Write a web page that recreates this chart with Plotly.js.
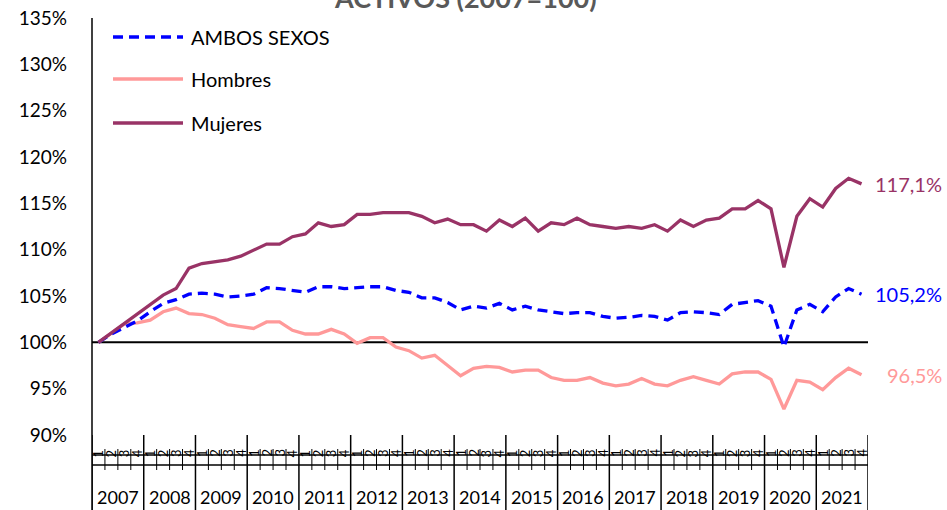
<!DOCTYPE html>
<html>
<head>
<meta charset="utf-8">
<script src="https://cdn.plot.ly/plotly-3.0.1.min.js"></script>
<style>html,body{margin:0;padding:0;background:#fff;}#chart{width:947px;height:510px;}</style>
</head>
<body>
<div id="chart"></div>
<script>
// ---- data ----
var years = ["2007","2008","2009","2010","2011","2012","2013","2014","2015","2016","2017","2018","2019","2020","2021"];
var quarters = ["1","2","3","4"];
var ambos = [100.0,100.9,101.6,102.3, 103.3,104.2,104.6,105.2, 105.3,105.2,104.9,105.0, 105.2,105.9,105.8,105.6,
             105.4,106.0,106.0,105.8, 105.9,106.0,106.0,105.6, 105.4,104.8,104.8,104.3, 103.5,103.9,103.7,104.2,
             103.5,103.9,103.5,103.3, 103.1,103.2,103.2,102.8, 102.6,102.7,102.9,102.8, 102.4,103.2,103.3,103.2,
             103.0,104.1,104.3,104.5, 103.9,99.5,103.5,104.1, 103.3,104.9,105.8,105.2];
var hombres = [100.0,101.0,102.0,102.1, 102.4,103.3,103.7,103.1, 103.0,102.6,101.9,101.7, 101.5,102.2,102.2,101.3,
               100.9,100.9,101.4,100.9, 99.9,100.5,100.5,99.5, 99.1,98.3,98.6,97.5, 96.4,97.2,97.4,97.3,
               96.8,97.0,97.0,96.2, 95.9,95.9,96.2,95.6, 95.3,95.5,96.1,95.5, 95.3,95.9,96.3,95.9,
               95.5,96.6,96.8,96.8, 96.0,92.8,95.9,95.7, 94.9,96.2,97.2,96.5];
var mujeres = [100.0,101.0,102.0,103.1, 104.0,105.1,105.8,108.0, 108.5,108.7,108.9,109.3, 110.0,110.6,110.6,111.4,
               111.7,112.9,112.5,112.7, 113.8,113.8,114.0,114.0, 114.0,113.6,112.9,113.3, 112.7,112.7,112.0,113.2,
               112.5,113.4,112.0,112.9, 112.7,113.4,112.7,112.5, 112.3,112.5,112.3,112.7, 112.0,113.2,112.5,113.2,
               113.4,114.4,114.4,115.3, 114.4,108.1,113.6,115.5, 114.6,116.6,117.7,117.1];
var seriesNames = ["AMBOS SEXOS","Hombres","Mujeres"];
var yTicks = [90,95,100,105,110,115,120,125,130,135];
var titleText = "ACTIVOS (2007=100)";

// ---- layout helpers (pixel -> paper) ----
var W = 947, H = 510, L = 92, R = 79, T = 18, B = 75;
var PW = W - L - R, PH = H - T - B;
function px(x){ return (x - L) / PW; }
function py(y){ return (H - B - y) / PH; }

var colAmbos = "#0000FF", colH = "#FF9999", colM = "#993366";
var FONT = "Lato, 'Liberation Sans', sans-serif";

var xs = [];
var nQ = years.length * quarters.length;
for (var i = 0; i < nQ; i++) xs.push(i);

var traces = [
  {x: xs, y: hombres, type: "scatter", mode: "lines", name: seriesNames[1], line: {color: colH, width: 3.3}, showlegend: false, hoverinfo: "skip"},
  {x: xs, y: ambos, type: "scatter", mode: "lines", name: seriesNames[0], line: {color: colAmbos, width: 3.3, dash: "10px,6px"}, showlegend: false, hoverinfo: "skip"},
  {x: xs, y: mujeres, type: "scatter", mode: "lines", name: seriesNames[2], line: {color: colM, width: 3.3}, showlegend: false, hoverinfo: "skip"}
];

var shapes = [], annotations = [];
// 100% reference line
shapes.push({type: "line", xref: "paper", yref: "y", x0: 0, x1: 1, y0: 100, y1: 100, line: {color: "#000", width: 2}, layer: "below"});
// y axis line extended down
shapes.push({type: "line", xref: "paper", yref: "paper", x0: 0, x1: 0, y0: py(510), y1: 1, line: {color: "#000", width: 1.5}});
// horizontal lines of the category area
shapes.push({type: "line", xref: "paper", yref: "paper", x0: 0, x1: 1, y0: py(455), y1: py(455), line: {color: "#000", width: 1.3}});
shapes.push({type: "line", xref: "paper", yref: "paper", x0: 0, x1: 1, y0: py(465), y1: py(465), line: {color: "#000", width: 1.3}});
// year separators & quarter ticks
for (var k = 0; k <= years.length; k++) {
  shapes.push({type: "line", xref: "x", yref: "paper", x0: 4*k - 0.5, x1: 4*k - 0.5, y0: py(510), y1: py(435), line: {color: "#000", width: 1.5}});
}
for (var j = 1; j < nQ; j++) {
  if (j % 4 === 0) continue;
  shapes.push({type: "line", xref: "x", yref: "paper", x0: j - 0.5, x1: j - 0.5, y0: py(470), y1: py(449), line: {color: "#000", width: 1}});
}
// quarter labels
for (var q = 0; q < nQ; q++) {
  annotations.push({xref: "x", yref: "paper", x: q, y: py(453), text: quarters[q % 4], textangle: -90, showarrow: false,
    xanchor: "center", yanchor: "middle", font: {family: FONT, size: 13, color: "#000"}});
}
// year labels
for (var y = 0; y < years.length; y++) {
  annotations.push({xref: "x", yref: "paper", x: 4*y + 1.5, y: py(497), text: years[y], showarrow: false,
    xanchor: "center", yanchor: "middle", font: {family: FONT, size: 18, color: "#000"}});
}
// legend (manual)
var legRows = [
  {name: seriesNames[0], color: colAmbos, dash: "10px,6px", y: 37},
  {name: seriesNames[1], color: colH, dash: "solid", y: 79},
  {name: seriesNames[2], color: colM, dash: "solid", y: 123}
];
legRows.forEach(function(r){
  shapes.push({type: "line", xref: "paper", yref: "paper", x0: px(113), x1: px(183), y0: py(r.y), y1: py(r.y), line: {color: r.color, width: 3.3, dash: r.dash}});
  annotations.push({xref: "paper", yref: "paper", x: px(189), y: py(r.y), text: r.name, showarrow: false, xanchor: "left", yanchor: "middle",
    font: {family: FONT, size: 20, color: "#000"}});
});
// end labels
function fmt(v){ return v.toFixed(1).replace(".", ",") + "%"; }
var last = nQ - 1;
[[mujeres, colM], [ambos, colAmbos], [hombres, colH]].forEach(function(s){
  annotations.push({xref: "paper", yref: "y", x: px(944), y: s[0][last], text: fmt(s[0][last]), showarrow: false, xanchor: "right", yanchor: "middle",
    font: {family: FONT, size: 20, color: s[1]}});
});
// clipped title (cut off at the top edge as in the reference)
annotations.push({xref: "paper", yref: "paper", x: px(465), y: py(16), text: "<b>" + titleText + "</b>", showarrow: false, xanchor: "center", yanchor: "bottom",
  font: {family: FONT, size: 27, color: "#595959"}});

var layout = {
  width: W, height: H,
  margin: {l: L, r: R, t: T, b: B, pad: 0},
  paper_bgcolor: "#fff", plot_bgcolor: "#fff",
  showlegend: false,
  xaxis: {range: [-0.5, nQ - 0.5], showticklabels: false, showgrid: false, zeroline: false, showline: false, ticks: "", fixedrange: true},
  yaxis: {range: [90, 135], tickvals: yTicks, ticktext: yTicks.map(function(v){return v + "%";}), showgrid: false, zeroline: false,
    showline: false, ticks: "", ticklabelstandoff: 24, tickfont: {family: FONT, size: 19, color: "#000"}, fixedrange: true},
  shapes: shapes,
  annotations: annotations
};

Plotly.newPlot("chart", traces, layout, {displayModeBar: false, staticPlot: true});
</script>
</body>
</html>
